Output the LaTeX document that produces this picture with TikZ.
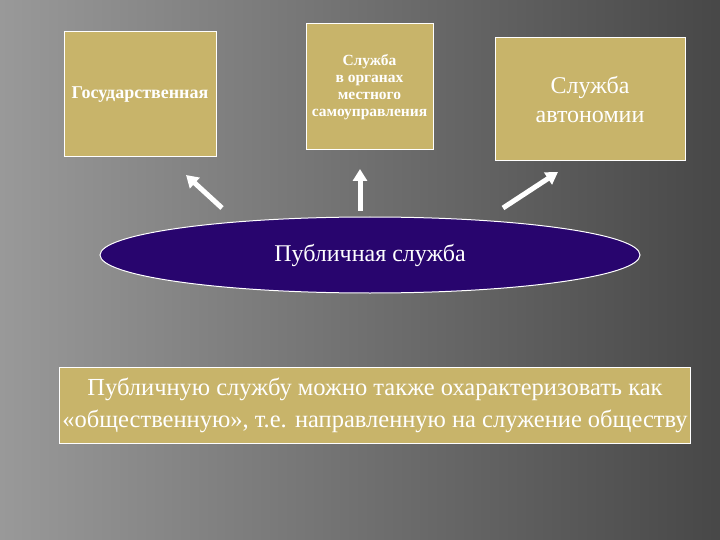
\documentclass[tikz,border=0pt]{standalone}
\usepackage{fontspec}
\setmainfont{Liberation Serif}
\usetikzlibrary{shapes.geometric,arrows.meta}
\definecolor{khaki}{RGB}{200,180,106}
\definecolor{purp}{RGB}{40,5,110}
\begin{document}
\begin{tikzpicture}[x=1pt,y=-1pt,
  box/.style={draw=white,line width=1pt,fill=khaki,text=white,align=center,inner sep=0pt},
  arr/.style={draw=white,line width=5pt,-{Triangle[length=12pt,width=14pt]}}]
\shade[left color=black!40,right color=black!72] (0,0) rectangle (720,540);
\useasboundingbox (0,0) rectangle (720,540);
\node[box,minimum width=152pt,minimum height=125pt,font=\fontsize{18}{20}\selectfont\bfseries] (g) at (140,94.5) {Государственная};
\node[box,minimum width=127pt,minimum height=126pt,font=\fontsize{15.5}{17}\selectfont\bfseries] (m) at (369.5,87) {Служба\\ в органах\\ местного\\ самоуправления};
\node[box,minimum width=190pt,minimum height=123pt,font=\fontsize{24}{29}\selectfont] (a) at (590,99.5) {Служба\\ автономии};
\node[ellipse,draw=white,line width=1pt,fill=purp,minimum width=540pt,minimum height=76pt,text=white,font=\fontsize{24}{28}\selectfont] (p) at (370,255) {Публичная служба};
\node[draw=white,line width=1pt,fill=khaki,minimum width=630pt,minimum height=76pt,text=white,align=center,font=\fontsize{24.5}{32}\selectfont] (b) at (375,405) {Публичную службу можно также охарактеризовать как\\ «общественную», т.е. направленную на служение обществу};
\coordinate (l0) at (222,208); \coordinate (l1) at (186,175);
\coordinate (c0) at (360,211); \coordinate (c1) at (360,169);
\coordinate (r0) at (503,208); \coordinate (r1) at (558,172);
\draw[arr] (l0) -- (l1);
\draw[arr] (c0) -- (c1);
\draw[arr] (r0) -- (r1);
\end{tikzpicture}
\end{document}
